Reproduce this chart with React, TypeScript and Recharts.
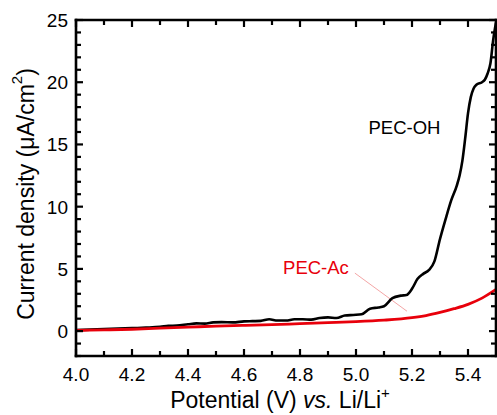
import React from 'react';
import { LineChart, Line, XAxis, YAxis, ReferenceLine, ReferenceDot } from 'recharts';

const FONT = "'Liberation Sans', Arial, Helvetica, sans-serif";

const xTicks = [4.0, 4.1, 4.2, 4.3, 4.4, 4.5, 4.6, 4.7, 4.8, 4.9, 5.0, 5.1, 5.2, 5.3, 5.4];
const xMajorTicks = [4.0, 4.2, 4.4, 4.6, 4.8, 5.0, 5.2, 5.4];
const yTicks = [-2, -1, 0, 1, 2, 3, 4, 5, 6, 7, 8, 9, 10, 11, 12, 13, 14, 15, 16, 17, 18, 19, 20, 21, 22, 23, 24, 25];
const yMajorTicks = [0, 5, 10, 15, 20, 25];

const pecOhV = [4.0, 4.05, 4.1, 4.15, 4.2, 4.25, 4.3, 4.33, 4.36, 4.4, 4.43, 4.46, 4.49, 4.52, 4.56, 4.6, 4.63, 4.66, 4.69, 4.72, 4.75, 4.78, 4.81, 4.84, 4.87, 4.9, 4.93, 4.96, 4.99, 5.02, 5.05, 5.08, 5.1, 5.13, 5.16, 5.18, 5.2, 5.22, 5.24, 5.26, 5.28, 5.3, 5.32, 5.34, 5.36, 5.37, 5.38, 5.39, 5.4, 5.41, 5.42, 5.43, 5.45, 5.46, 5.47, 5.48, 5.49, 5.5];
const pecOhJ = [0.08, 0.12, 0.16, 0.2, 0.24, 0.28, 0.34, 0.42, 0.45, 0.55, 0.62, 0.6, 0.7, 0.72, 0.7, 0.78, 0.8, 0.82, 0.95, 0.85, 0.85, 0.95, 0.95, 0.92, 1.05, 1.1, 1.05, 1.25, 1.3, 1.35, 1.8, 1.9, 2.0, 2.65, 2.85, 2.9, 3.4, 4.2, 4.6, 4.9, 5.6, 7.4, 9.0, 10.5, 11.7, 12.5, 13.7, 15.5, 17.5, 18.8, 19.5, 19.8, 20.0, 20.2, 20.7, 21.5, 23.4, 24.8];

const pecAcV = [4.0, 4.1, 4.2, 4.3, 4.4, 4.5, 4.6, 4.7, 4.8, 4.9, 5.0, 5.1, 5.2, 5.25, 5.3, 5.35, 5.4, 5.45, 5.5];
const pecAcJ = [0.05, 0.1, 0.15, 0.24, 0.32, 0.4, 0.46, 0.52, 0.6, 0.68, 0.76, 0.88, 1.08, 1.25, 1.5, 1.8, 2.15, 2.65, 3.35];

const pecOh = pecOhV.map((v, i) => ({ v, j: pecOhJ[i] }));
const pecAc = pecAcV.map((v, i) => ({ v, j: pecAcJ[i] }));

const isMajorX = (v: number) => xMajorTicks.some((m) => Math.abs(m - v) < 1e-6);
const isMajorY = (v: number) => yMajorTicks.some((m) => Math.abs(m - v) < 1e-6);

const TICK_W = 2.2;
const MAJOR = 7;
const MINOR = 5;
const TITLE_SIZE = 23;

function BottomTick(props: any) {
  const { x, y, payload } = props;
  const major = isMajorX(payload.value);
  return (
    <g>
      <line x1={x} x2={x} y1={y} y2={y - (major ? MAJOR : MINOR)} stroke="#000" strokeWidth={TICK_W} />
      {major && (
        <text x={x} y={y + 25} textAnchor="middle" fontSize={19} fontFamily={FONT} fill="#000">
          {Number(payload.value).toFixed(1)}
        </text>
      )}
    </g>
  );
}

function TopTick(props: any) {
  const { x, y, payload } = props;
  const major = isMajorX(payload.value);
  return <line x1={x} x2={x} y1={y} y2={y + (major ? MAJOR : MINOR)} stroke="#000" strokeWidth={TICK_W} />;
}

function LeftTick(props: any) {
  const { x, y, payload } = props;
  const major = isMajorY(payload.value);
  return (
    <g>
      <line x1={x} x2={x + (major ? MAJOR : MINOR)} y1={y} y2={y} stroke="#000" strokeWidth={TICK_W} />
      {major && (
        <text x={x - 8} y={y + 7} textAnchor="end" fontSize={19} fontFamily={FONT} fill="#000">
          {payload.value}
        </text>
      )}
    </g>
  );
}

function RightTick(props: any) {
  const { x, y, payload } = props;
  const major = isMajorY(payload.value);
  return <line x1={x} x2={x - (major ? MAJOR : MINOR)} y1={y} y2={y} stroke="#000" strokeWidth={TICK_W} />;
}

function XTitle(props: any) {
  const vb = props.viewBox || { x: 76, y: 356, width: 420, height: 1 };
  const cx = vb.x + vb.width / 2 - 6;
  const y = vb.y + 52;
  return (
    <text x={cx} y={y} textAnchor="middle" fontSize={TITLE_SIZE} fontFamily={FONT} fill="#000">
      <tspan>Potential (V) </tspan>
      <tspan fontStyle="italic">vs.</tspan>
      <tspan> Li/Li</tspan>
      <tspan fontSize={15} dy={-10}>+</tspan>
    </text>
  );
}

function YTitle(props: any) {
  const vb = props.viewBox || { x: 75, y: 20, width: 1, height: 336 };
  const cx = vb.x + vb.width - 50;
  const cy = vb.y + vb.height / 2 + 6;
  return (
    <text
      x={cx}
      y={cy}
      transform={`rotate(-90 ${cx} ${cy})`}
      textAnchor="middle"
      dominantBaseline="central"
      fontSize={TITLE_SIZE}
      fontFamily={FONT}
      fill="#000"
    >
      <tspan>Current density (μA/cm</tspan>
      <tspan fontSize={15} dy={-10}>2</tspan>
      <tspan dy={10}>)</tspan>
    </text>
  );
}

const axisLine = { stroke: '#000', strokeWidth: 2.6, strokeLinecap: 'square' as const };

export default function App() {
  return (
    <div style={{ position: 'absolute', left: 0, top: 0, width: 497, height: 415, background: '#fff' }}>
      <LineChart width={497} height={415} margin={{ top: 19, right: 0, bottom: 58, left: 75 }}>
        <XAxis
          xAxisId="b"
          dataKey="v"
          type="number"
          domain={[4.0, 5.5]}
          ticks={xTicks}
          interval={0}
          allowDataOverflow
          height={1}
          tickSize={0}
          tickMargin={0}
          tickLine={false}
          axisLine={axisLine}
          tick={<BottomTick />}
          label={{ content: (p: any) => <XTitle {...p} /> }}
        />
        <XAxis
          xAxisId="t"
          orientation="top"
          dataKey="v"
          type="number"
          domain={[4.0, 5.5]}
          ticks={xTicks}
          interval={0}
          allowDataOverflow
          height={1}
          tickSize={0}
          tickMargin={0}
          tickLine={false}
          axisLine={axisLine}
          tick={<TopTick />}
        />
        <YAxis
          yAxisId="l"
          type="number"
          domain={[-2, 25]}
          ticks={yTicks}
          interval={0}
          allowDataOverflow
          width={1}
          tickSize={0}
          tickMargin={0}
          tickLine={false}
          axisLine={axisLine}
          tick={<LeftTick />}
          label={{ content: (p: any) => <YTitle {...p} /> }}
        />
        <YAxis
          yAxisId="r"
          orientation="right"
          type="number"
          domain={[-2, 25]}
          ticks={yTicks}
          interval={0}
          allowDataOverflow
          width={1}
          tickSize={0}
          tickMargin={0}
          tickLine={false}
          axisLine={axisLine}
          tick={<RightTick />}
        />
        <ReferenceLine
          xAxisId="b"
          yAxisId="l"
          segment={[{ x: 4.996, y: 4.66 }, { x: 5.182, y: 1.6 }]}
          stroke="#f4a6a6"
          strokeWidth={1}
          ifOverflow="visible"
        />
        <Line
          xAxisId="b"
          yAxisId="l"
          data={pecOh}
          dataKey="j"
          type="monotone"
          stroke="#000"
          strokeWidth={2.6}
          dot={false}
          activeDot={false}
          isAnimationActive={false}
        />
        <Line
          xAxisId="b"
          yAxisId="l"
          data={pecAc}
          dataKey="j"
          type="monotone"
          stroke="#e8000b"
          strokeWidth={2.8}
          dot={false}
          activeDot={false}
          isAnimationActive={false}
        />
        <ReferenceDot
          xAxisId="b"
          yAxisId="l"
          x={5.173}
          y={16.4}
          r={0}
          fill="none"
          stroke="none"
          ifOverflow="visible"
          label={{ value: 'PEC-OH', position: 'center', fill: '#000', fontSize: 18.5, fontFamily: FONT }}
        />
        <ReferenceDot
          xAxisId="b"
          yAxisId="l"
          x={4.857}
          y={5.14}
          r={0}
          fill="none"
          stroke="none"
          ifOverflow="visible"
          label={{ value: 'PEC-Ac', position: 'center', fill: '#e8000b', fontSize: 18.5, fontFamily: FONT }}
        />
      </LineChart>
    </div>
  );
}
